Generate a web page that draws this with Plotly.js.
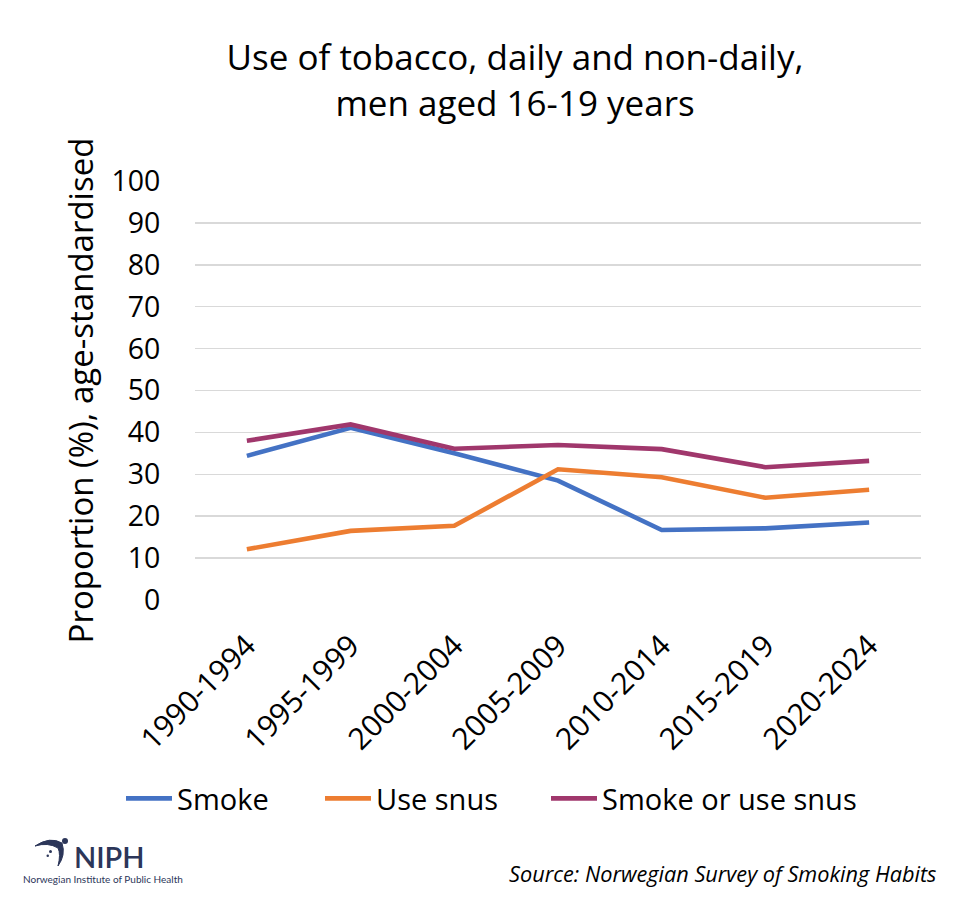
<!DOCTYPE html>
<html>
<head>
<meta charset="utf-8">
<script src="https://cdn.plot.ly/plotly-3.0.1.min.js"></script>
<style>
  html, body { margin: 0; padding: 0; background: #fff; }
  #chart { width: 970px; height: 921px; }
</style>
</head>
<body>
<div id="chart"></div>
<script>
// Five-year periods of the survey
const periods = ['1990-1994', '1995-1999', '2000-2004', '2005-2009', '2010-2014', '2015-2019', '2020-2024'];

// Proportion (%) of men aged 16-19, age-standardised
const smoke = [34.4, 41.1, 35.0, 28.5, 16.7, 17.1, 18.5];
const useSnus = [12.1, 16.5, 17.7, 31.2, 29.3, 24.4, 26.3];
const smokeOrSnus = [38.0, 41.9, 36.1, 37.0, 36.0, 31.7, 33.2];

const yTicks = [0, 10, 20, 30, 40, 50, 60, 70, 80, 90, 100];

const W = 970, H = 921;
const M = { l: 195, r: 49, t: 181, b: 321 };
const FONT = '"Open Sans", "Noto Sans", sans-serif';

// pixel -> paper helpers for the decorations placed outside the plot area
const plotW = W - M.l - M.r, plotH = H - M.t - M.b;
const px = x => (x - M.l) / plotW;
const py = y => (H - M.b - y) / plotH;

const lineTrace = (name, values, color, legendId) => ({
  type: 'scatter',
  mode: 'lines',
  name: name,
  x: periods,
  y: values,
  legend: legendId,
  line: { color: color, width: 4.6 },
  hoverinfo: 'x+y+name'
});

const data = [
  lineTrace('Smoke', smoke, '#4472C4', 'legend'),
  lineTrace('Use snus', useSnus, '#ED7D31', 'legend2'),
  lineTrace('Smoke or use snus', smokeOrSnus, '#A0376C', 'legend3')
];

// one legend box per series, laid out in a row under the axis labels
const legendAt = left => ({
  orientation: 'h',
  x: left / W,
  xanchor: 'left',
  xref: 'container',
  y: 1 - 773 / H,
  yref: 'container',
  yanchor: 'top',
  font: { family: FONT, size: 29, color: '#000000' },
  itemwidth: 46,
  bgcolor: 'rgba(0,0,0,0)'
});

// small swoosh mark of the institute logo
const swoosh = 'M ' + px(35) + ',' + py(846) +
  ' Q ' + px(50) + ',' + py(836) + ' ' + px(62) + ',' + py(843) +
  ' Q ' + px(66) + ',' + py(855) + ' ' + px(58) + ',' + py(866) +
  ' Q ' + px(61) + ',' + py(854) + ' ' + px(58) + ',' + py(848) +
  ' Q ' + px(48) + ',' + py(842) + ' ' + px(35) + ',' + py(846) + ' Z';

const navy = '#2C3659';

const layout = {
  width: W,
  height: H,
  margin: M,
  paper_bgcolor: '#ffffff',
  plot_bgcolor: '#ffffff',
  font: { family: FONT, color: '#000000' },
  title: {
    text: 'Use of tobacco, daily and non-daily,<br>men aged 16-19 years',
    font: { family: FONT, size: 35, color: '#000000' },
    x: 515 / W,
    xanchor: 'center',
    y: 1 - 70 / H,
    yanchor: 'top'
  },
  xaxis: {
    type: 'category',
    range: [-0.5, periods.length - 0.5],
    tickangle: -45,
    tickfont: { family: FONT, size: 30, color: '#000000' },
    ticks: 'outside',
    ticklen: 15,
    tickcolor: 'rgba(0,0,0,0)',
    showgrid: false,
    zeroline: false,
    showline: false,
    fixedrange: true
  },
  yaxis: {
    range: [0, 100],
    tickvals: yTicks,
    ticktext: yTicks.map(String),
    tickfont: { family: FONT, size: 28.5, color: '#000000' },
    ticks: 'outside',
    ticklen: 28,
    tickcolor: 'rgba(0,0,0,0)',
    showgrid: true,
    gridcolor: '#D9D9D9',
    gridwidth: 1.5,
    zeroline: false,
    showline: false,
    title: {
      text: 'Proportion (%), age-standardised',
      font: { family: FONT, size: 33, color: '#000000' },
      standoff: 7
    },
    fixedrange: true
  },
  showlegend: true,
  legend: legendAt(121),
  legend2: legendAt(320),
  legend3: legendAt(546),
  shapes: [
    { type: 'path', xref: 'paper', yref: 'paper', path: swoosh,
      fillcolor: navy, line: { color: navy, width: 1 } },
    { type: 'circle', xref: 'paper', yref: 'paper',
      x0: px(62), x1: px(68), y0: py(838), y1: py(844),
      fillcolor: navy, line: { width: 0 } },
    { type: 'circle', xref: 'paper', yref: 'paper',
      x0: px(49), x1: px(52), y0: py(850), y1: py(853),
      fillcolor: navy, line: { width: 0 } },
    { type: 'circle', xref: 'paper', yref: 'paper',
      x0: px(46.5), x1: px(49), y0: py(854.5), y1: py(857),
      fillcolor: navy, line: { width: 0 } }
  ],
  annotations: [
    { text: 'NIPH', xref: 'paper', yref: 'paper', x: px(72), y: py(856),
      xanchor: 'left', yanchor: 'middle', showarrow: false,
      font: { family: 'Lato, sans-serif', size: 29, color: navy, weight: 600 } },
    { text: 'Norwegian Institute of Public Health', xref: 'paper', yref: 'paper',
      x: px(103), y: py(879), xanchor: 'center', yanchor: 'middle', showarrow: false,
      font: { family: 'Lato, sans-serif', size: 10, color: navy } },
    { text: '<i>Source: Norwegian Survey of Smoking Habits</i>', xref: 'paper', yref: 'paper',
      x: px(938), y: py(873), xanchor: 'right', yanchor: 'middle', showarrow: false,
      font: { family: FONT, size: 21.7, color: '#000000' } }
  ]
};

Plotly.newPlot('chart', data, layout, { displayModeBar: false, staticPlot: true });
</script>
</body>
</html>
